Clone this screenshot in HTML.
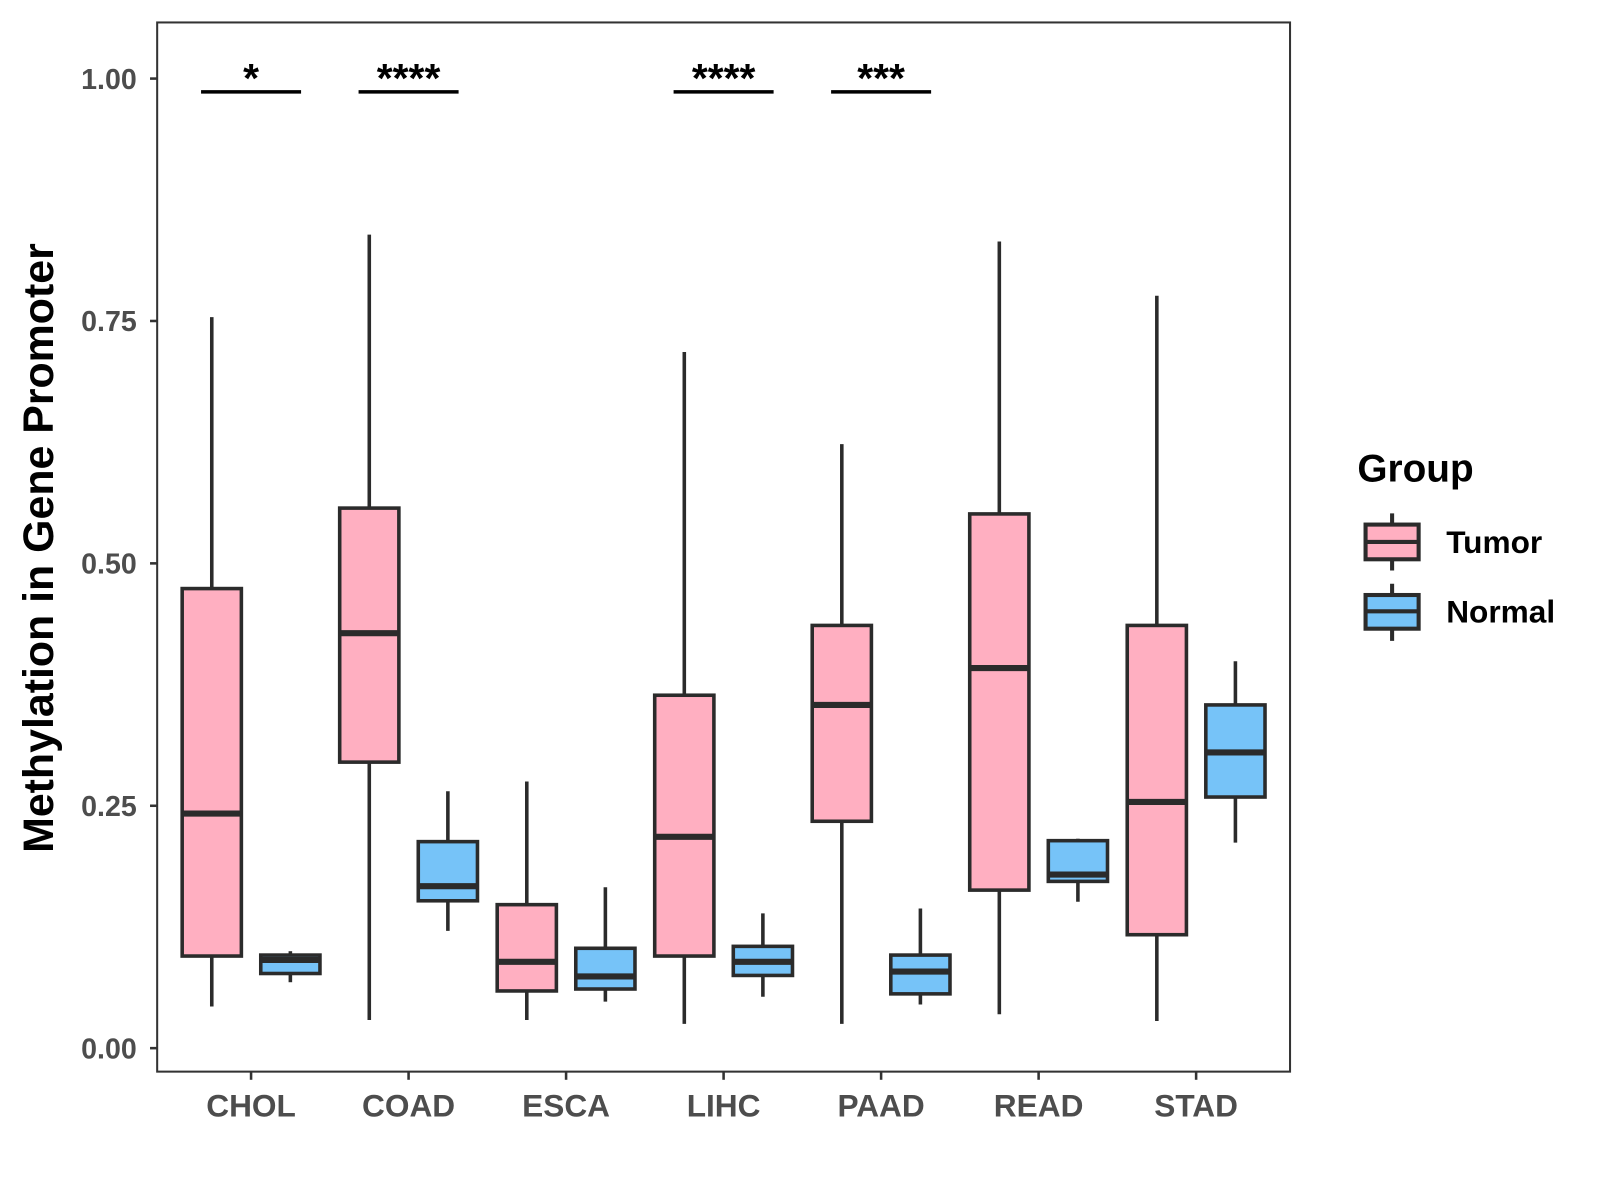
<!DOCTYPE html>
<html><head><meta charset="utf-8"><style>body{margin:0;background:#fff}svg{display:block}text{font-family:"Liberation Sans",Arial,sans-serif;font-weight:bold}</style></head>
<body>
<svg id="chart" width="1600" height="1200" viewBox="0 0 1600 1200">
<g transform="scale(1.0206)">
<rect x="154" y="22" width="1110" height="1028" fill="#fff" stroke="#333" stroke-width="2"/>
<g id="marks"></g>
<text x="0" y="0" transform="translate(52,537) rotate(-90)" text-anchor="middle" font-size="42" fill="#000">Methylation in Gene Promoter</text>
<g>
<text x="1330" y="472" font-size="38" fill="#000">Group</text>
<g>
<line x1="1364" y1="503" x2="1364" y2="559" stroke="#2b2b2b" stroke-width="4"/>
<rect x="1338" y="514" width="52" height="34" fill="#FFAFC1" stroke="#2b2b2b" stroke-width="4"/>
<line x1="1338" y1="531" x2="1390" y2="531" stroke="#2b2b2b" stroke-width="4"/>
<text x="1417" y="542" font-size="31" fill="#000">Tumor</text></g>
<g>
<line x1="1364" y1="572" x2="1364" y2="628" stroke="#2b2b2b" stroke-width="4"/>
<rect x="1338" y="583" width="52" height="33" fill="#76C3F8" stroke="#2b2b2b" stroke-width="4"/>
<line x1="1338" y1="599" x2="1390" y2="599" stroke="#2b2b2b" stroke-width="4"/>
<text x="1417" y="610" font-size="31" fill="#000">Normal</text></g>
</g>
</g>
</svg>
<script>
const categories=["CHOL","COAD","ESCA","LIHC","PAAD","READ","STAD"];
// [lower whisker, q1, median, q3, upper whisker]
const tumorStats=[[0.043,0.095,0.242,0.474,0.754],[0.029,0.295,0.428,0.557,0.839],[0.029,0.059,0.089,0.148,0.275],[0.025,0.095,0.218,0.364,0.718],[0.025,0.234,0.354,0.436,0.623],[0.035,0.163,0.392,0.551,0.832],[0.028,0.117,0.254,0.436,0.776]];
const normalStats=[[0.068,0.077,0.091,0.096,0.100],[0.121,0.152,0.167,0.213,0.265],[0.048,0.061,0.074,0.103,0.166],[0.053,0.075,0.089,0.105,0.139],[0.045,0.056,0.079,0.096,0.144],[0.151,0.172,0.179,0.214,0.216],[0.212,0.259,0.305,0.354,0.399]];
const signif=["*","****","","****","***","",""];
const yTicks=[0,0.25,0.5,0.75,1.0];
const yTickLabels=["0.00","0.25","0.50","0.75","1.00"];
const NS="http://www.w3.org/2000/svg";
const g=document.getElementById('marks');
const y=v=>1027-v*950;
const x=i=>246+i*154.33;
function mk(t,a,p){const e=document.createElementNS(NS,t);for(const k in a)e.setAttribute(k,a[k]);(p||g).appendChild(e);return e;}
yTicks.forEach((v,i)=>{
 const t=mk('line',{x1:147,x2:154,y1:y(v),y2:y(v),stroke:'#333','stroke-width':2.5});
 
 
 const l=mk('text',{x:134,y:y(v)+10,'text-anchor':'end','font-size':28,fill:'#4d4d4d'});
 l.textContent=yTickLabels[i];
 
 
});
categories.forEach((c,i)=>{
 const t=mk('line',{x1:x(i),x2:x(i),y1:1050,y2:1058,stroke:'#333','stroke-width':2.5});
 
 
 const l=mk('text',{x:x(i),y:1094,'text-anchor':'middle','font-size':31,fill:'#4d4d4d'});
 l.textContent=c;
 
 
 [[tumorStats[i],-38.5,'#FFAFC1','tumor'],[normalStats[i],38.5,'#76C3F8','normal']].forEach(([s,off,col,nm])=>{
  const cx=x(i)+off,w=58;
  const grp=mk('g',{});
  
  
  mk('line',{x1:cx,x2:cx,y1:y(s[0]),y2:y(s[4]),stroke:'#2b2b2b','stroke-width':3.5},grp);
  mk('rect',{x:cx-w/2,y:y(s[3]),width:w,height:y(s[1])-y(s[3]),fill:col,stroke:'#2b2b2b','stroke-width':3.5},grp);
  mk('line',{x1:cx-w/2,x2:cx+w/2,y1:y(s[2]),y2:y(s[2]),stroke:'#2b2b2b','stroke-width':6},grp);
 });
 if(signif[i]){
  const sl=mk('line',{x1:x(i)-49,x2:x(i)+49,y1:90,y2:90,stroke:'#000','stroke-width':3.5});
  
  
  const st=mk('text',{x:x(i),y:90,'text-anchor':'middle','font-size':40,fill:'#000'});
  st.textContent=signif[i];
  
  
 }
});
</script>
</body></html>
